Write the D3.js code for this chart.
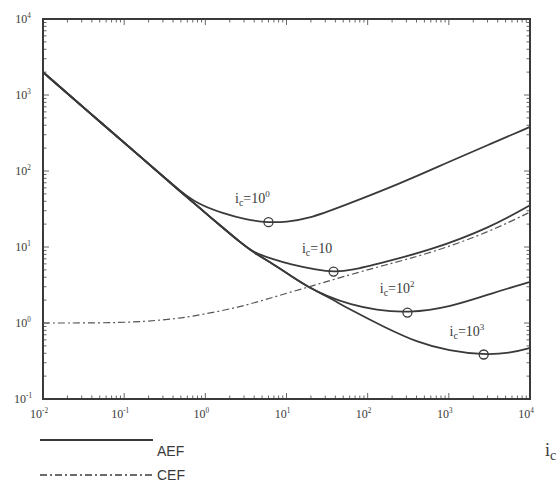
<!DOCTYPE html>
<html>
<head>
<meta charset="utf-8">
<script src="https://cdn.jsdelivr.net/npm/d3@7"></script>
<style>
  html, body { margin: 0; padding: 0; background: #fff; }
  svg { display: block; }
</style>
</head>
<body>
<div id="chart"></div>
<script>
// shared steep part of the AEF curves (i_c, ratio)
const descent = [[0.01, 2000], [0.038, 575], [0.158, 155], [0.49, 54]];

// AEF curves, one per i_c value
const aef1 = [[0.794, 37.2], [1.66, 27.5], [3.16, 22.9], [6.0, 20.9], [10, 21.4], [18.2, 23.4], [47, 33.9], [257, 69], [1000, 132], [3160, 224], [10000, 380]];
const bundle = [[0.794, 34.7], [1.58, 18.6], [2.7, 11.5], [3.9, 8.5]];
const aef10 = [[6.3, 7.1], [11.2, 5.9], [24, 5.0], [38, 4.7], [62, 4.9], [158, 6.3], [600, 9.1], [3160, 17.8], [10000, 35.5]];
const lowBundle = [[6.3, 6.3], [11.2, 4.2], [18.2, 3.0], [31.6, 2.24]];
const aef100 = [[62, 1.74], [126, 1.48], [309, 1.35], [1050, 1.62], [3310, 2.45], [10000, 3.47]];
const aef1000 = [[62, 1.48], [158, 0.89], [417, 0.55], [1000, 0.43], [2690, 0.38], [5620, 0.40], [10000, 0.47]];

// CEF curve
const cef = [[0.01, 1], [0.1, 1.0], [0.316, 1.1], [0.65, 1.2], [2.7, 1.62], [6.9, 2.19], [18.2, 2.95], [47, 4.0], [158, 5.75], [600, 8.3], [3160, 15.8], [10000, 28.8]];

// marked minima and curve labels
const minima = [[6.0, 21.2], [38, 4.75], [309, 1.37], [2690, 0.385]];
const labelExp = ['0', null, '2', '3'];
const labelPos = [[2.32, 38], [15.5, 8.3], [141, 2.45], [1020, 0.68]];

const xDecades = [-2, -1, 0, 1, 2, 3, 4];
const yDecades = [-1, 0, 1, 2, 3, 4];

const W = 560, H = 483;
const svg = d3.select('#chart').append('svg').attr('width', W).attr('height', H);

const x = d3.scaleLog().domain([0.01, 10000]).range([43, 530]);
const y = d3.scaleLog().domain([0.1, 10000]).range([399, 19]);

const ink = '#3a3a3a';
const serif = '"Liberation Serif", "DejaVu Serif", serif';
const sans = '"Liberation Sans", Arial, sans-serif';

// minor + major ticks inside the frame
const xTicks = x.ticks(60);
const yTicks = y.ticks(60);
const isMajor = v => Math.abs(Math.log10(v) - Math.round(Math.log10(v))) < 1e-6;

const tg = svg.append('g').attr('stroke', '#666').attr('stroke-width', 1);
xTicks.forEach(v => {
  const len = isMajor(v) ? 6 : 3.5;
  tg.append('line').attr('x1', x(v)).attr('x2', x(v)).attr('y1', 399).attr('y2', 399 - len);
  tg.append('line').attr('x1', x(v)).attr('x2', x(v)).attr('y1', 19).attr('y2', 19 + len);
});
yTicks.forEach(v => {
  const len = isMajor(v) ? 6 : 3.5;
  tg.append('line').attr('y1', y(v)).attr('y2', y(v)).attr('x1', 43).attr('x2', 43 + len);
  tg.append('line').attr('y1', y(v)).attr('y2', y(v)).attr('x1', 530).attr('x2', 530 - len);
});

// frame
svg.append('rect')
  .attr('x', 43).attr('y', 19).attr('width', 530 - 43).attr('height', 399 - 19)
  .attr('fill', 'none').attr('stroke', ink).attr('stroke-width', 2);

// tick labels
function powLabel(g, exp, size) {
  g.append('tspan').text('10');
  g.append('tspan').attr('dy', -size * 0.45).attr('font-size', size * 0.6).text(exp);
}
xDecades.forEach(d => {
  const t = svg.append('text')
    .attr('x', x(Math.pow(10, d)) - 4).attr('y', 418)
    .attr('text-anchor', 'middle')
    .attr('font-family', serif).attr('font-size', 12).attr('fill', ink);
  powLabel(t, d, 12);
});
yDecades.forEach(d => {
  const t = svg.append('text')
    .attr('x', 23).attr('y', y(Math.pow(10, d)) + 4)
    .attr('text-anchor', 'middle')
    .attr('font-family', serif).attr('font-size', 12).attr('fill', ink);
  powLabel(t, d, 12);
});

// curves
const line = d3.line()
  .x(d => x(d[0]))
  .y(d => y(d[1]))
  .curve(d3.curveBasis);

const aefCurves = [
  descent.concat(aef1),
  descent.concat(bundle, aef10),
  descent.concat(bundle, lowBundle, aef100),
  descent.concat(bundle, lowBundle, aef1000)
];

svg.append('g')
  .selectAll('path')
  .data(aefCurves)
  .join('path')
  .attr('d', line)
  .attr('fill', 'none')
  .attr('stroke', ink)
  .attr('stroke-width', 1.8);

svg.append('path')
  .attr('d', line(cef))
  .attr('fill', 'none')
  .attr('stroke', '#555')
  .attr('stroke-width', 1.2)
  .attr('stroke-dasharray', '7,3,2,3');

// minimum markers
svg.append('g')
  .selectAll('circle')
  .data(minima)
  .join('circle')
  .attr('cx', d => x(d[0]))
  .attr('cy', d => y(d[1]))
  .attr('r', 4.5)
  .attr('fill', 'none')
  .attr('stroke', ink)
  .attr('stroke-width', 1.3);

// curve labels
labelPos.forEach((p, i) => {
  const t = svg.append('text')
    .attr('x', x(p[0])).attr('y', y(p[1]))
    .attr('font-family', serif).attr('font-size', 14).attr('fill', ink);
  t.append('tspan').text('i');
  t.append('tspan').attr('dy', 3).attr('font-size', 10).text('c');
  t.append('tspan').attr('dy', -3).text('=10');
  if (labelExp[i] !== null) {
    t.append('tspan').attr('dy', -6).attr('font-size', 9).text(labelExp[i]);
  }
});

// axis name, cut at the right edge
const xl = svg.append('text')
  .attr('x', 545).attr('y', 456)
  .attr('font-family', serif).attr('font-size', 18).attr('fill', ink);
xl.append('tspan').text('i');
xl.append('tspan').attr('dy', 4).attr('font-size', 14).text('c');

// legend
const legend = [
  { name: 'AEF', dash: null, ly: 440, ty: 456 },
  { name: 'CEF', dash: '7,3,2,3', ly: 475, ty: 480 }
];
legend.forEach(l => {
  svg.append('line')
    .attr('x1', 40).attr('x2', 153).attr('y1', l.ly).attr('y2', l.ly)
    .attr('stroke', ink).attr('stroke-width', l.dash ? 1.5 : 2)
    .attr('stroke-dasharray', l.dash);
  svg.append('text')
    .attr('x', 157).attr('y', l.ty)
    .attr('font-family', sans).attr('font-size', 14).attr('fill', ink)
    .text(l.name);
});
</script>
</body>
</html>
